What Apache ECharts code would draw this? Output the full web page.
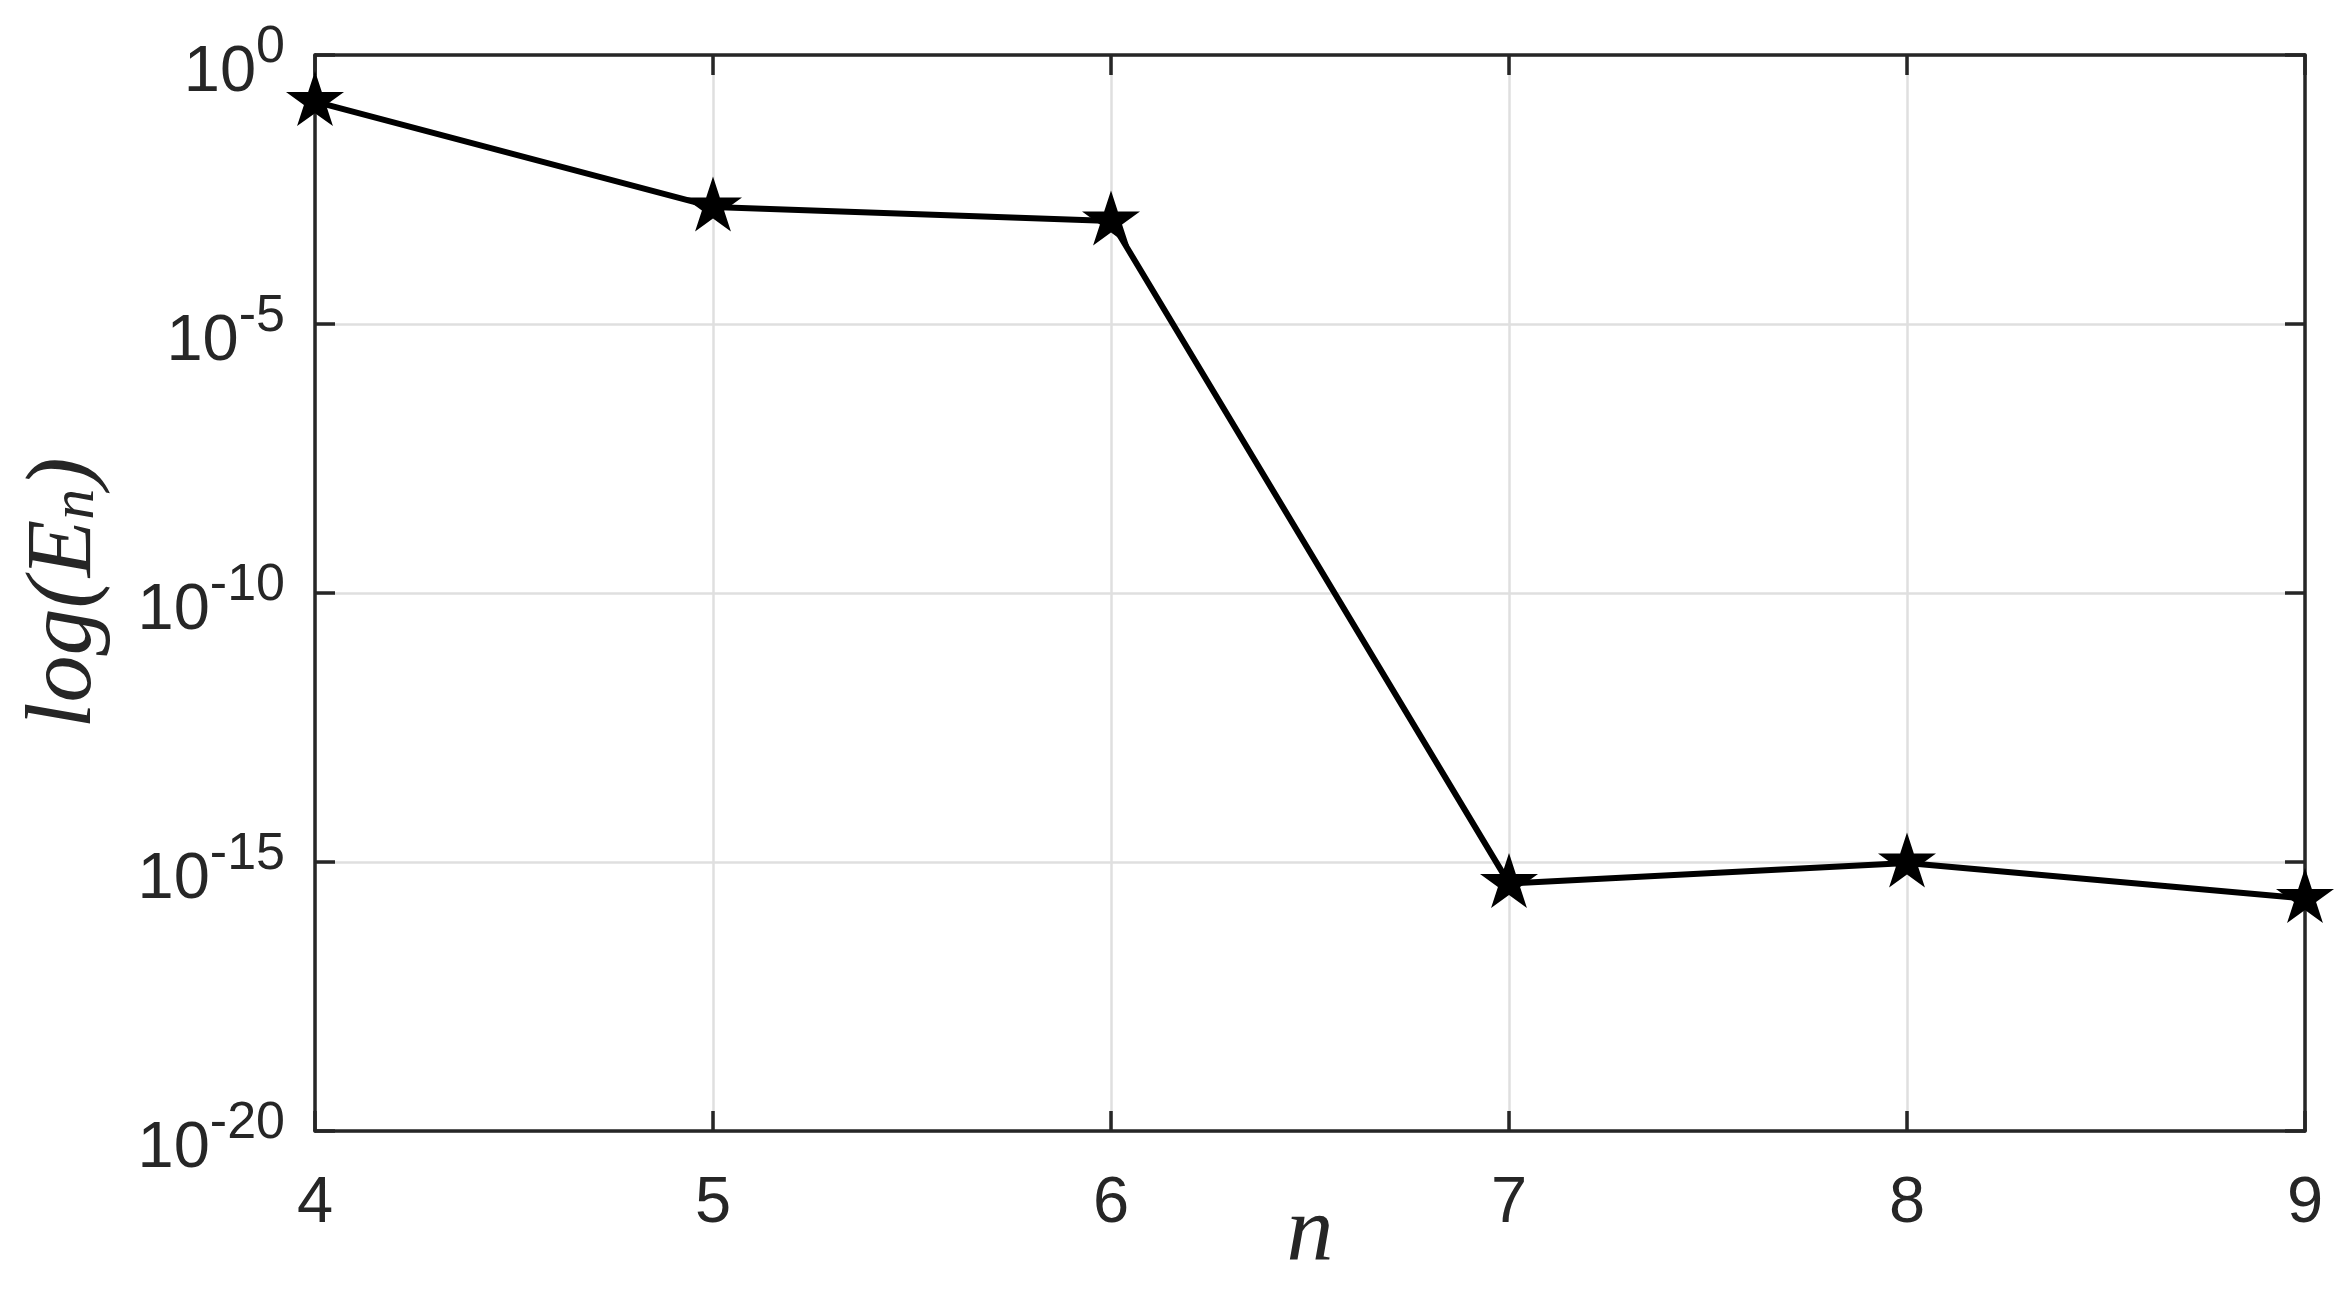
<!DOCTYPE html>
<html>
<head>
<meta charset="utf-8">
<script src="https://cdn.jsdelivr.net/npm/echarts@6/dist/echarts.min.js"></script>
<style>
  html, body { margin: 0; padding: 0; background: #fff; }
  #main { width: 2352px; height: 1297px; }
</style>
</head>
<body>
<div id="main"></div>
<script>
// data
var nValues = [4, 5, 6, 7, 8, 9];
var errValues = [0.136, 1.5e-3, 8.2e-4, 4.0e-16, 9.6e-16, 2.1e-16];
var yTickExps = [0, -5, -10, -15, -20];

var textColor = '#262626';
// five-pointed star, like matlab's pentagram marker
var starPath = 'path://M0,-100 L22.45,-30.9 L95.1,-30.9 L36.3,11.8 L58.8,80.9 L0,38.2 L-58.8,80.9 L-36.3,11.8 L-95.1,-30.9 L-22.45,-30.9 Z';

var points = nValues.map(function (n, i) { return [n, errValues[i]]; });

var myChart = echarts.init(document.getElementById('main'));

// 10 with raised exponent
var supRich = {
  b: { fontSize: 65, color: textColor, fontFamily: 'Liberation Sans', padding: [36, 0, 0, 0] },
  s: { fontSize: 52, color: textColor, fontFamily: 'Liberation Sans', padding: [0, 0, 15, 0] }
};

var boxAxis = {
  axisLine: { onZero: false, lineStyle: { color: textColor, width: 3.5 } },
  axisTick: { inside: true, length: 20, lineStyle: { color: textColor, width: 3.5 } }
};

var option = {
  backgroundColor: '#fff',
  animation: false,
  grid: { left: 315, right: 47, top: 55, bottom: 166, outerBoundsMode: 'none', containLabel: false },
  xAxis: [{
    type: 'value',
    min: 4, max: 9, interval: 1,
    name: 'n',
    nameLocation: 'middle',
    nameGap: 57,
    nameMoveOverlap: false,
    nameTextStyle: { fontFamily: 'Liberation Serif', fontStyle: 'italic', fontSize: 94, color: textColor },
    axisLine: boxAxis.axisLine,
    axisTick: boxAxis.axisTick,
    axisLabel: { fontFamily: 'Liberation Sans', fontSize: 65, color: textColor, margin: 41 },
    splitLine: { show: true, lineStyle: { color: '#dfdfdf', width: 2.5 } }
  }, {
    type: 'value', position: 'top',
    min: 4, max: 9, interval: 1,
    axisLine: boxAxis.axisLine,
    axisTick: boxAxis.axisTick,
    axisLabel: { show: false },
    splitLine: { show: false }
  }],
  yAxis: [{
    type: 'log',
    min: 1e-20, max: 1, interval: 5,
    name: '{i|log(E}{sub|n}{i|)}',
    nameLocation: 'middle',
    nameGap: 203,
    nameMoveOverlap: false,
    nameTextStyle: {
      rich: {
        i: { fontFamily: 'Liberation Serif', fontStyle: 'italic', fontSize: 94, color: textColor },
        sub: { fontFamily: 'Liberation Serif', fontStyle: 'italic', fontSize: 62, color: textColor, padding: [24, 0, 0, 0] }
      }
    },
    axisLine: boxAxis.axisLine,
    axisTick: boxAxis.axisTick,
    axisLabel: {
      margin: 30,
      formatter: function (v) {
        var e = Math.round(Math.log10(v));
        if (yTickExps.indexOf(e) < 0) return '';
        return '{b|10}{s|' + e + '}';
      },
      rich: supRich
    },
    splitLine: { show: true, lineStyle: { color: '#dfdfdf', width: 2.5 } }
  }, {
    type: 'log', position: 'right',
    min: 1e-20, max: 1, interval: 5,
    axisLine: boxAxis.axisLine,
    axisTick: boxAxis.axisTick,
    axisLabel: { show: false },
    splitLine: { show: false }
  }],
  series: [{
    type: 'line',
    data: points,
    clip: false,
    symbol: starPath,
    symbolSize: [58, 55],
    symbolOffset: [0, -3],
    itemStyle: { color: '#000' },
    lineStyle: { color: '#000', width: 6 }
  }]
};

myChart.setOption(option);
</script>
</body>
</html>
